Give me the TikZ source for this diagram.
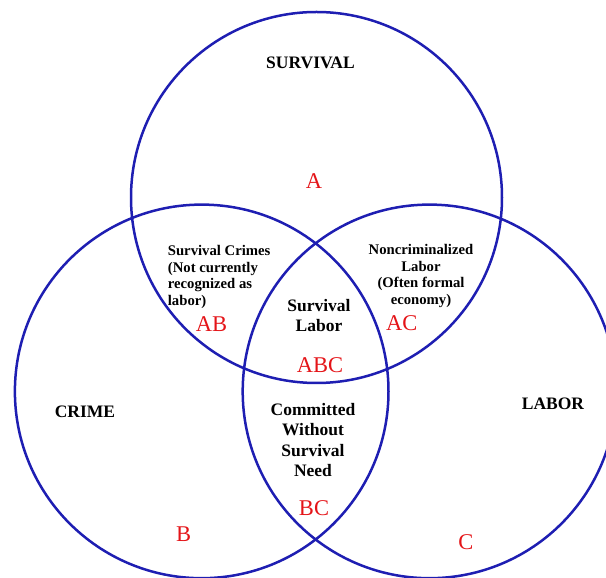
\documentclass[tikz,border=0pt]{standalone}
\usepackage{fontspec}
\setmainfont{Liberation Serif}[BoldFont={Liberation Serif Bold}]
\definecolor{ringblue}{RGB}{30,30,178}
\definecolor{setred}{RGB}{228,20,24}

\begin{document}
\begin{tikzpicture}[
  ring/.style={draw=ringblue, line width=2.5pt},
  title/.style={inner sep=0pt, font=\bfseries\fontsize{17.5}{20}\selectfont},
  body/.style={inner sep=0pt, font=\bfseries\fontsize{17.5}{20.5}\selectfont},
  small/.style={inner sep=0pt, font=\bfseries\fontsize{14.7}{16.6}\selectfont},
  setname/.style={inner sep=0pt, text=setred, font=\fontsize{22.5}{24}\selectfont}
]

\useasboundingbox (0,0) rectangle (606pt,578pt);
\clip (0,0) rectangle (606pt,578pt);

%% Kreise
\draw[ring] (316.5pt,380.5pt) circle (185.5pt);  % Survival
\draw[ring] (201.7pt,186.6pt) circle (186.8pt);  % Crime
\draw[ring] (429.5pt,186.6pt) circle (186.8pt);  % Labor

%% Titel %%%%%%%%%%%%%%%%%%%%%%%
\draw (310.5pt,515.3pt) node (survival) [title]{SURVIVAL};
\draw (85pt,166.3pt) node (crime) [title]{CRIME};
\draw (553pt,174pt) node (labor) [title]{LABOR};

%% Labels
\draw (314pt,397pt) node (setA) [setname]{A};
\draw (183.6pt,43.5pt) node (setB) [setname]{B};
\draw (466pt,36.3pt) node (setC) [setname]{C};
\draw (211.5pt,254pt) node (setAB) [setname]{AB};
\draw (401.7pt,255.3pt) node (setAC) [setname]{AC};
\draw (320pt,213pt) node (setABC) [setname]{ABC};
\draw (314pt,70pt) node (setBC) [setname]{BC};

%% Inhalte Schnittmengen %%%%%%%%%%%%%%%%%%
\draw (167.7pt,301pt) node (crimes) [small, anchor=west]{
  \begin{tabular}{@{}l@{}}
    Survival Crimes\\ (Not currently\\ recognized as\\ labor)
  \end{tabular}};

\draw (421pt,302pt) node (formal) [small]{
  \begin{tabular}{@{}c@{}}
    Noncriminalized\\ Labor\\ (Often formal\\ economy)
  \end{tabular}};

\draw (319pt,260.5pt) node (survlabor) [body]{
  \begin{tabular}{@{}c@{}}
    Survival\\ Labor
  \end{tabular}};

\draw (313pt,136pt) node (committed) [body]{
  \begin{tabular}{@{}c@{}}
    Committed\\ Without\\ Survival\\ Need
  \end{tabular}};

\end{tikzpicture}
\end{document}
